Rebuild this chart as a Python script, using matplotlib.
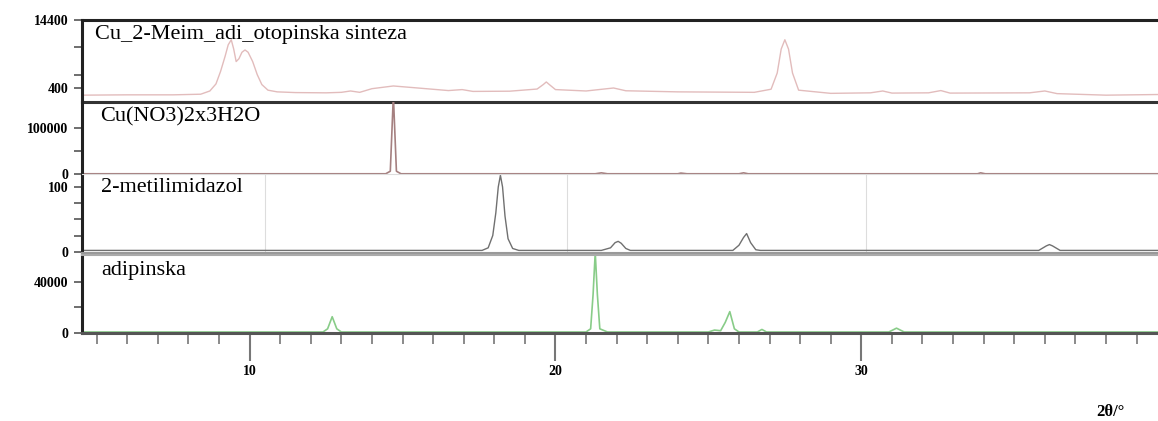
import numpy as np
import matplotlib
matplotlib.use("Agg")
import matplotlib.pyplot as plt
from matplotlib.ticker import FixedLocator, NullFormatter

# ---- data (2θ in degrees, intensities in counts) ----
x_cu_meim = [4.5, 6.0, 7.5, 8.4, 8.7, 8.9, 9.05, 9.2, 9.3, 9.4, 9.48, 9.56, 9.65, 9.75, 9.85,
             9.95, 10.1, 10.25, 10.4, 10.6, 10.9, 11.5, 12.5, 13.0, 13.3, 13.6, 14.0, 14.7,
             15.5, 16.5, 16.95, 17.3, 18.5, 19.4, 19.6, 19.7, 19.8, 20.0, 21.0, 21.9, 22.3,
             24.0, 26.5, 27.05, 27.25, 27.38, 27.5, 27.62, 27.75, 27.95, 29.0, 30.3, 30.7,
             31.0, 32.2, 32.6, 32.9, 35.5, 36.0, 36.4, 38.0, 39.7]
y_cu_meim = [100, 110, 110, 130, 260, 700, 2000, 4500, 7000, 8300, 6000, 3500, 4000, 5300, 5800,
             5300, 3500, 1600, 650, 300, 220, 190, 180, 200, 260, 200, 380, 550,
             420, 280, 330, 240, 250, 360, 650, 860, 650, 330, 260, 420, 270,
             220, 200, 350, 1800, 6000, 8300, 6000, 1800, 300, 160, 180, 260,
             170, 180, 280, 170, 180, 260, 150, 100, 120]

x_cu_no3 = [4.5, 14.45, 14.6, 14.7, 14.8, 14.95, 21.3, 21.5, 21.7, 24.0, 24.1, 24.3,
            26.0, 26.15, 26.3, 33.8, 33.9, 34.05, 39.7]
y_cu_no3 = [500, 500, 6000, 170000, 6000, 500, 500, 2500, 500, 500, 2000, 500,
            500, 2500, 500, 500, 2500, 500, 500]

x_meim = [4.5, 17.6, 17.8, 17.95, 18.05, 18.13, 18.2, 18.27, 18.35, 18.45, 18.6, 18.8,
          21.5, 21.8, 21.95, 22.05, 22.15, 22.3, 22.45,
          25.8, 26.0, 26.15, 26.25, 26.38, 26.55, 26.7, 35.8, 36.05, 36.15, 36.25, 36.5, 39.7]
y_meim = [2, 2, 6, 25, 60, 100, 118, 100, 55, 20, 5, 2,
          2, 6, 14, 16, 13, 5, 2,
          2, 10, 22, 28, 14, 3, 2, 2, 9, 11, 9, 2, 2]

x_adip = [4.5, 12.4, 12.55, 12.7, 12.85, 13.0, 21.0, 21.15, 21.23, 21.3, 21.37, 21.45, 21.7,
          25.0, 25.2, 25.4, 25.55, 25.7, 25.85, 26.0, 26.6, 26.75, 26.9, 30.9, 31.15, 31.4, 39.7]
y_adip = [500, 500, 3000, 12500, 3000, 500, 500, 3000, 30000, 63000, 30000, 3000, 500,
          500, 2000, 1500, 8000, 16500, 3000, 500, 500, 2500, 500, 500, 3500, 500, 500]

labels = ["Cu_2-Meim_adi_otopinska sinteza", "Cu(NO3)2x3H2O", "2-metilimidazol", "adipinska"]
xlabel = "2θ/°"

# ---- figure ----
W, H = 1158, 421
fig = plt.figure(figsize=(W / 100, H / 100), dpi=100)

def px_axes(top, bottom, left=82, right=1158):
    return fig.add_axes([left / W, 1 - bottom / H, (right - left) / W, (bottom - top) / H])

XLIM = (4.52, 39.7)
tick_font = dict(family="Liberation Serif", weight="bold", size=10)
lab_font = dict(family="Liberation Serif", size=16)

ax1 = px_axes(20, 102)
ax2 = px_axes(102, 174)
ax3 = px_axes(174, 253)
ax4 = px_axes(255, 333)

for ax in (ax1, ax2, ax3, ax4):
    ax.set_xlim(*XLIM)
    ax.set_facecolor("none")
    ax.tick_params(axis="x", which="both", bottom=False, labelbottom=False)
    ax.tick_params(axis="y", which="both", direction="out", length=6, width=1.2,
                   color="#555555", pad=4)
    ax.spines["right"].set_visible(False)
    ax.spines["left"].set_linewidth(2.2)
    ax.spines["left"].set_color("#222222")

# panel 1 - sqrt scale
ax1.set_yscale("function", functions=(lambda v: np.sqrt(np.clip(v, 0, None)), lambda v: v ** 2))
ax1.plot(x_cu_meim, y_cu_meim, color="#e2bcbc", lw=1.0)
ax1.set_ylim(0, 14400)
ax1.yaxis.set_major_locator(FixedLocator([400, 14400]))
ax1.yaxis.set_minor_locator(FixedLocator([1600, 6400]))
ax1.yaxis.set_minor_formatter(NullFormatter())
ax1.set_yticklabels(["400", "14400"], **tick_font)
ax1.tick_params(axis="y", which="minor", length=6, width=1.2, color="#555555")
ax1.spines["top"].set_linewidth(2.2)
ax1.spines["top"].set_color("#222222")
ax1.spines["bottom"].set_linewidth(2.2)
ax1.spines["bottom"].set_color("#333333")

# panel 2
ax2.plot(x_cu_no3, y_cu_no3, color="#a58080", lw=1.2)
ax2.set_ylim(0, 156000)
ax2.yaxis.set_major_locator(FixedLocator([0, 100000]))
ax2.yaxis.set_minor_locator(FixedLocator([50000]))
ax2.set_yticklabels(["0", "100000"], **tick_font)
ax2.tick_params(axis="y", which="minor", length=6, width=1.2, color="#555555")
ax2.spines["top"].set_visible(False)
ax2.spines["bottom"].set_visible(False)

# panel 3
for gx in (10.5, 20.37, 30.15):
    ax3.axvline(gx, color="#dddddd", lw=0.8, zorder=0)
ax3.plot(x_meim, y_meim, color="#707070", lw=1.0)
ax3.set_ylim(-2, 120)
ax3.yaxis.set_major_locator(FixedLocator([0, 100]))
ax3.yaxis.set_minor_locator(FixedLocator([25, 50, 75]))
ax3.set_yticklabels(["0", "100"], **tick_font)
ax3.tick_params(axis="y", which="minor", length=6, width=1.2, color="#555555")
ax3.spines["top"].set_color("#dddddd")
ax3.spines["top"].set_linewidth(0.8)
ax3.spines["bottom"].set_color("#999999")
ax3.spines["bottom"].set_linewidth(1.5)

# panel 4
ax4.plot(x_adip, y_adip, color="#88cc88", lw=1.2)
ax4.set_ylim(-300, 61000)
ax4.yaxis.set_major_locator(FixedLocator([0, 40000]))
ax4.yaxis.set_minor_locator(FixedLocator([20000]))
ax4.set_yticklabels(["0", "40000"], **tick_font)
ax4.tick_params(axis="y", which="minor", length=6, width=1.2, color="#555555")
ax4.spines["top"].set_color("#aaaaaa")
ax4.spines["top"].set_linewidth(1.5)
ax4.spines["bottom"].set_color("#555555")
ax4.spines["bottom"].set_linewidth(2.2)
ax4.tick_params(axis="x", which="both", bottom=True, labelbottom=True, direction="out",
                color="#777777")
ax4.xaxis.set_major_locator(FixedLocator([10, 20, 30]))
ax4.xaxis.set_minor_locator(FixedLocator([v for v in range(5, 40) if v % 10]))
ax4.tick_params(axis="x", which="major", length=20, width=1.5, pad=3)
ax4.tick_params(axis="x", which="minor", length=8, width=1.2)
ax4.set_xticklabels(["10", "20", "30"], **tick_font)

for ax, lab, xpx, ypx in zip((ax1, ax2, ax3, ax4), labels, (95, 100, 101, 101), (34, 117, 188, 270)):
    fig.text(xpx / W, 1 - ypx / H, lab, ha="left", va="center", **lab_font)

fig.text(1110 / W, 1 - 412 / H, xlabel, ha="center", va="center",
         family="Liberation Serif", weight="bold", size=12)

fig.savefig("out.png", dpi=100)
